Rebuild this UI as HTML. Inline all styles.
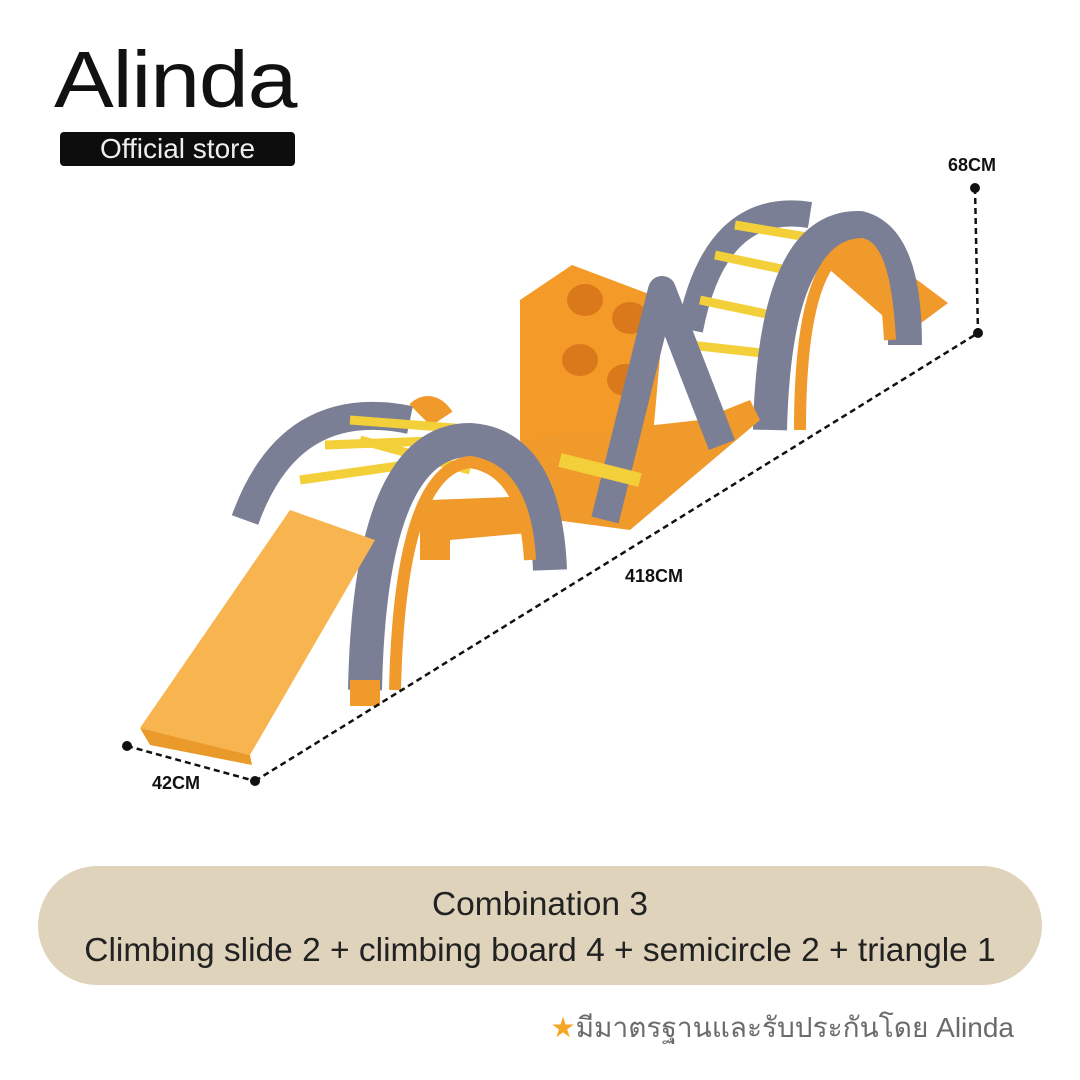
<!DOCTYPE html>
<html><head><meta charset="utf-8">
<style>
html,body{margin:0;padding:0;background:#fff;}
#c{position:relative;width:1080px;height:1080px;overflow:hidden;background:#fff;font-family:"Liberation Sans",sans-serif;}
.logo{position:absolute;left:54px;top:40px;font-family:"Liberation Sans",sans-serif;font-size:80px;letter-spacing:-1px;color:#111;line-height:1;transform:scaleX(1.12);transform-origin:left;}
.box{position:absolute;left:60px;top:132px;width:235px;height:34px;background:#0d0d0d;border-radius:4px;color:#eee;font-size:28px;line-height:34px;text-align:center;}
.lbl{position:absolute;font-weight:bold;font-size:18px;color:#111;}
.banner{position:absolute;left:38px;top:866px;width:1004px;height:119px;background:#dfd3bc;border-radius:60px;text-align:center;color:#222;font-size:33.5px;line-height:46px;padding-top:16px;box-sizing:border-box;}
.thai{position:absolute;right:66px;top:1006px;font-size:28px;color:#6b6b6b;font-family:"Liberation Sans","DejaVu Sans",sans-serif;}
</style></head><body><div id="c">
<div class="logo">Alinda</div>
<div class="box">Official store</div>

<svg width="1080" height="1080" style="position:absolute;left:0;top:0">
<polygon points="840,222 948,303 905,335 830,270" fill="#f19a2c"/>
<path d="M690,330 Q715,200 810,215" stroke="#7b7f95" stroke-width="26" fill="none"/>
<path d="M700,300 L795,320 M715,255 L810,275 M735,225 L825,240 M690,345 L780,355" stroke="#f3d03a" stroke-width="9"/>
<path d="M770,430 Q775,225 860,228 Q905,240 905,345" stroke="#7b7f95" stroke-width="34" fill="none"/>
<path d="M800,430 Q800,245 862,244 Q885,250 890,340" stroke="#f19a2c" stroke-width="12" fill="none"/>
<polygon points="520,300 572,265 665,300 650,470 520,440" fill="#f39a28"/>
<ellipse cx="585" cy="300" rx="18" ry="16" fill="#d9791b"/><ellipse cx="630" cy="318" rx="18" ry="16" fill="#d9791b"/>
<ellipse cx="580" cy="360" rx="18" ry="16" fill="#d9791b"/><ellipse cx="625" cy="380" rx="18" ry="16" fill="#d9791b"/>
<polygon points="520,440 700,420 750,400 760,420 630,530 555,520" fill="#f19a2c"/>
<path d="M605,520 L662,290 L722,445" stroke="#7b7f95" stroke-width="28" fill="none" stroke-linejoin="round"/>
<path d="M560,460 L640,480" stroke="#f3d03a" stroke-width="14"/>
<path d="M245,520 Q290,395 410,420" stroke="#7b7f95" stroke-width="28" fill="none"/>
<path d="M420,415 Q430,405 440,420" stroke="#f19a2c" stroke-width="30" fill="none"/>
<path d="M300,480 L440,460 M325,445 L460,440 M350,420 L480,430 M360,440 L470,470" stroke="#f3d03a" stroke-width="9"/>
<rect x="420" y="500" width="30" height="60" fill="#f19a2c"/>
<polygon points="430,500 560,495 560,530 450,540" fill="#f19a2c"/>
<path d="M365,690 Q370,440 470,440 Q545,445 550,570" stroke="#7b7f95" stroke-width="34" fill="none"/>
<path d="M395,690 Q400,470 470,462 Q525,470 530,560" stroke="#f19a2c" stroke-width="12" fill="none"/>
<rect x="350" y="680" width="30" height="26" fill="#f19a2c"/>
<polygon points="140,728 250,755 375,540 290,510" fill="#f8b44e"/>
<polygon points="140,728 150,745 252,765 250,755" fill="#e99a2a"/>
<g stroke="#111" stroke-width="2.5" stroke-dasharray="6,4" fill="none">
<line x1="127" y1="746" x2="255" y2="781"/>
<line x1="255" y1="781" x2="978" y2="333"/>
<line x1="975" y1="188" x2="978" y2="333"/>
</g>
<circle cx="127" cy="746" r="5" fill="#111"/><circle cx="255" cy="781" r="5" fill="#111"/>
<circle cx="978" cy="333" r="5" fill="#111"/><circle cx="975" cy="188" r="5" fill="#111"/>
</svg>

<div class="lbl" style="left:948px;top:155px">68CM</div>
<div class="lbl" style="left:625px;top:566px">418CM</div>
<div class="lbl" style="left:152px;top:773px">42CM</div>

<div class="banner">Combination 3<br>Climbing slide 2 + climbing board 4 + semicircle 2 + triangle 1</div>
<div class="thai"><span style="color:#f5a623">★</span>มีมาตรฐานและรับประกันโดย Alinda</div>
</div></body></html>
